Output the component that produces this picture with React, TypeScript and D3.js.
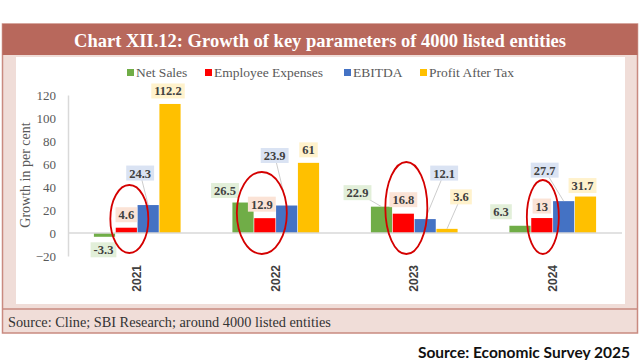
import React, { useRef, useEffect } from "react";
import * as d3 from "d3";

const years = ["2021", "2022", "2023", "2024"];
const seriesNames = ["Net Sales", "Employee Expenses", "EBITDA", "Profit After Tax"];
const netSales = [-3.3, 26.5, 22.9, 6.3];
const employeeExpenses = [4.6, 12.9, 16.8, 13];
const ebitda = [24.3, 23.9, 12.1, 27.7];
const profitAfterTax = [112.2, 61, 3.6, 31.7];
const yTicks = [-20, 0, 20, 40, 60, 80, 100, 120];

// label offsets (px) from the top of each bar, per series then per year; last flag = leader line
const labelOffsets = [
  [[-1, 13, 0], [-18, -12, 0], [-24, -14, 1], [-19, -14, 0]],
  [[0, -13, 0], [-3, -14, 0], [0, -14, 0], [0, -12, 0]],
  [[-8, -32, 1], [-12, -50, 1], [19, -46, 1], [-19, -31, 1]],
  [[-2, -13, 0], [0, -13, 0], [14, -32, 1], [-3, -11, 0]],
];
// red ellipses around the employee expense bars: dx, height above zero, rx, ry
const ellipses = [
  [3, 14, 19, 34],
  [-3, 20, 25, 41],
  [3, 25, 21, 46],
  [1, 16, 16, 37],
];

const colors = ["#70ad47", "#ff0000", "#4472c4", "#ffc000"];
const boxColors = ["#e2efd9", "#fbe3d6", "#dae3f3", "#fff2cc"];
const legendX = [127, 205, 344, 420];

const App = () => {
  const ref = useRef<SVGSVGElement>(null);

  useEffect(() => {
    const svg = d3.select(ref.current);
    svg.selectAll("*").remove();
    const serif = "'Liberation Serif', 'Times New Roman', serif";

    // frame
    svg.append("rect").attr("x", 2.5).attr("y", 24).attr("width", 635).attr("height", 309)
      .attr("fill", "#f0ddd8").attr("stroke", "#c98a80").attr("stroke-width", 1.5);
    svg.append("rect").attr("x", 2.5).attr("y", 24).attr("width", 635).attr("height", 31).attr("fill", "#b8685c");
    svg.append("rect").attr("x", 16).attr("y", 57).attr("width", 609).attr("height", 247).attr("fill", "#fff");
    svg.append("line").attr("x1", 2.5).attr("x2", 637.5).attr("y1", 309).attr("y2", 309)
      .attr("stroke", "#c98a80").attr("stroke-width", 1.5);
    svg.append("text").attr("x", 320).attr("y", 46.5).attr("text-anchor", "middle")
      .attr("font-family", serif).attr("font-weight", "bold").attr("font-size", 18.5).attr("fill", "#fff")
      .text("Chart XII.12: Growth of key parameters of 4000 listed entities");
    svg.append("text").attr("x", 8).attr("y", 327).attr("font-family", serif).attr("font-size", 14.3)
      .attr("fill", "#333").text("Source: Cline; SBI Research; around 4000 listed entities");
    svg.append("text").attr("x", 630).attr("y", 358).attr("text-anchor", "end")
      .attr("font-family", "Lato, 'Open Sans', sans-serif").attr("font-weight", "bold").attr("font-size", 15.5)
      .attr("fill", "#111").text("Source: Economic Survey 2025");

    const x = d3.scaleBand().domain(years).range([68, 622]).padding(0);
    const xs = d3.scaleBand().domain(seriesNames).range([0, 88]).padding(0.03);
    const y = d3.scaleLinear().domain([-20, 120]).range([256, 95]);
    const allSeries = [netSales, employeeExpenses, ebitda, profitAfterTax];

    // y axis
    const yAxis = svg.append("g").attr("transform", "translate(68,0)")
      .call(d3.axisLeft(y).tickValues(yTicks).tickSize(0).tickPadding(12));
    yAxis.select(".domain").attr("stroke", "#d9d9d9").attr("stroke-width", 1.5);
    yAxis.selectAll("text").attr("font-family", serif).attr("font-size", 13).attr("fill", "#595959");
    svg.append("text").attr("transform", "translate(30,175) rotate(-90)").attr("text-anchor", "middle")
      .attr("font-family", serif).attr("font-size", 14).attr("fill", "#595959").text("Growth in per cent");

    // legend
    seriesNames.forEach((s, i) => {
      svg.append("rect").attr("x", legendX[i]).attr("y", 69).attr("width", 7).attr("height", 7).attr("fill", colors[i]);
      svg.append("text").attr("x", legendX[i] + 9).attr("y", 77).attr("font-family", serif)
        .attr("font-size", 13.5).attr("fill", "#595959").text(s);
    });

    const barX = (yr: string, s: string) => (x(yr) as number) + x.bandwidth() / 2 - 44 + (xs(s) as number);

    // bars
    allSeries.forEach((vals, si) => {
      svg.append("g").selectAll("rect").data(vals).enter().append("rect")
        .attr("x", (d, i) => barX(years[i], seriesNames[si]))
        .attr("width", xs.bandwidth())
        .attr("y", (d) => y(Math.max(0, d)))
        .attr("height", (d) => Math.abs(y(d) - y(0)))
        .attr("fill", colors[si]);
    });

    // zero line
    svg.append("line").attr("x1", 68).attr("x2", 622).attr("y1", y(0)).attr("y2", y(0))
      .attr("stroke", "#d9d9d9").attr("stroke-width", 1.5);

    // year labels
    years.forEach((yr) => {
      const cx = (x(yr) as number) + x.bandwidth() / 2;
      svg.append("text").attr("transform", `translate(${cx + 4},265) rotate(-90)`).attr("text-anchor", "end")
        .attr("font-family", "'Liberation Sans', Arial, sans-serif").attr("font-weight", "bold")
        .attr("font-size", 12).attr("fill", "#404040").text(yr);
    });

    // data labels
    allSeries.forEach((vals, si) => {
      vals.forEach((v, i) => {
        const [dx, dy, leader] = labelOffsets[si][i];
        const bx = barX(years[i], seriesNames[si]) + xs.bandwidth() / 2;
        const by = y(v);
        const lx = bx + dx;
        const ly = by + dy;
        if (leader) {
          svg.append("line").attr("x1", lx).attr("y1", ly).attr("x2", bx).attr("y2", by)
            .attr("stroke", "#bfbfbf").attr("stroke-width", 0.8);
        }
        const t = svg.append("text").attr("x", lx).attr("y", ly + 4.5).attr("text-anchor", "middle")
          .attr("font-family", serif).attr("font-weight", "bold").attr("font-size", 12.5)
          .attr("fill", "#404040").text(String(v));
        const w = (t.node() as SVGTextElement).getComputedTextLength();
        svg.insert("rect", () => t.node())
          .attr("x", lx - w / 2 - 3).attr("y", ly - 7.5).attr("width", w + 6).attr("height", 15)
          .attr("fill", boxColors[si]);
      });
    });

    // ellipses
    ellipses.forEach(([dx, h, rx, ry], i) => {
      const cx = barX(years[i], seriesNames[1]) + xs.bandwidth() / 2 + dx;
      svg.append("ellipse").attr("cx", cx).attr("cy", y(0) - h).attr("rx", rx).attr("ry", ry)
        .attr("fill", "none").attr("stroke", "#d40000").attr("stroke-width", 1.8);
    });
  }, []);

  return (
    <svg ref={ref} width={640} height={360}
      style={{ position: "absolute", left: 0, top: 0, background: "#fff" }} />
  );
};

export default App;
